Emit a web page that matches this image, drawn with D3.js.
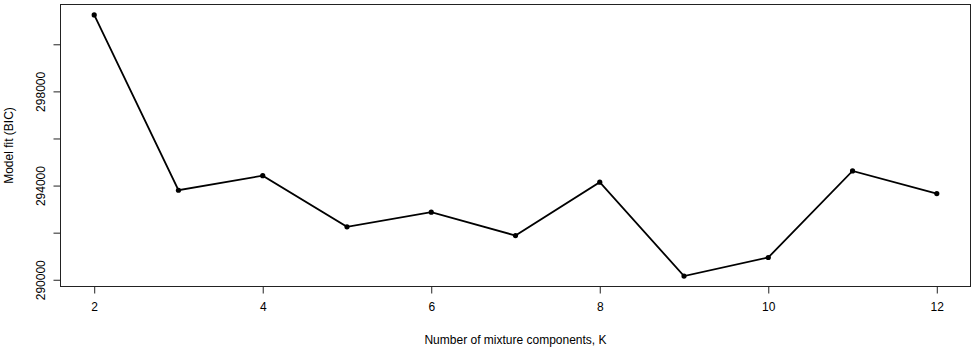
<!DOCTYPE html>
<html>
<head>
<meta charset="utf-8">
<script src="https://cdn.jsdelivr.net/npm/d3@7"></script>
<style>
  body { margin: 0; background: #fff; }
  text { font-family: "Liberation Sans", Arial, sans-serif; fill: #000; }
</style>
</head>
<body>
<script>
// number of mixture components and BIC values
const components = [2, 3, 4, 5, 6, 7, 8, 9, 10, 11, 12];
const bic = [301246, 293802, 294421, 292247, 292870, 291878, 294142, 290157, 290945, 294621, 293658];
const xTicks = [2, 4, 6, 8, 10, 12];
const yTicks = [290000, 292000, 294000, 296000, 298000, 300000];
const yTickLabels = ["290000", "", "294000", "", "298000", ""];

const width = 972, height = 348;
const box = { left: 60.5, right: 970.5, top: 4.5, bottom: 286.5 };

const svg = d3.select("body").append("svg")
    .attr("width", width)
    .attr("height", height);

// R style 4% padding on both axes
function pad(ext) {
    const d = (ext[1] - ext[0]) * 0.04;
    return [ext[0] - d, ext[1] + d];
}

const x = d3.scaleLinear()
    .domain(pad(d3.extent(components)))
    .range([box.left, box.right]);

const y = d3.scaleLinear()
    .domain(pad(d3.extent(bic)))
    .range([box.bottom, box.top]);

// plot frame
svg.append("rect")
    .attr("x", box.left)
    .attr("y", box.top)
    .attr("width", box.right - box.left)
    .attr("height", box.bottom - box.top)
    .attr("fill", "none")
    .attr("stroke", "#222")
    .attr("stroke-width", 1);

// x axis
const xAxis = svg.append("g")
    .attr("transform", `translate(0,${box.bottom})`)
    .call(d3.axisBottom(x).tickValues(xTicks).tickSize(7).tickPadding(9).tickFormat(d3.format("d")));
xAxis.select(".domain").remove();
xAxis.selectAll("text").style("font-size", "12px").attr("font-family", null);
xAxis.selectAll("line").attr("stroke", "#222");

// y axis, labels parallel to axis
const yAxis = svg.append("g")
    .attr("transform", `translate(${box.left},0)`)
    .call(d3.axisLeft(y).tickValues(yTicks).tickSize(7).tickFormat((d, i) => yTickLabels[i]));
yAxis.select(".domain").remove();
yAxis.selectAll("line").attr("stroke", "#222");
yAxis.selectAll("text")
    .style("font-size", "12px")
    .attr("font-family", null)
    .attr("x", null)
    .attr("dy", null)
    .attr("text-anchor", "middle")
    .attr("transform", "translate(-16,0) rotate(-90)");

// axis titles
svg.append("text")
    .attr("x", (box.left + box.right) / 2)
    .attr("y", 344)
    .attr("text-anchor", "middle")
    .style("font-size", "12px")
    .text("Number of mixture components, K");

svg.append("text")
    .attr("transform", `translate(13,${(box.top + box.bottom) / 2}) rotate(-90)`)
    .attr("text-anchor", "middle")
    .style("font-size", "12px")
    .text("Model fit (BIC)");

// line and points
const line = d3.line()
    .x((d, i) => x(components[i]))
    .y(d => y(d));

svg.append("path")
    .datum(bic)
    .attr("d", line)
    .attr("fill", "none")
    .attr("stroke", "#000")
    .attr("stroke-width", 1.8);

svg.append("g")
    .selectAll("circle")
    .data(bic)
    .enter().append("circle")
    .attr("cx", (d, i) => x(components[i]))
    .attr("cy", d => y(d))
    .attr("r", 2.6)
    .attr("fill", "#000");
</script>
</body>
</html>
